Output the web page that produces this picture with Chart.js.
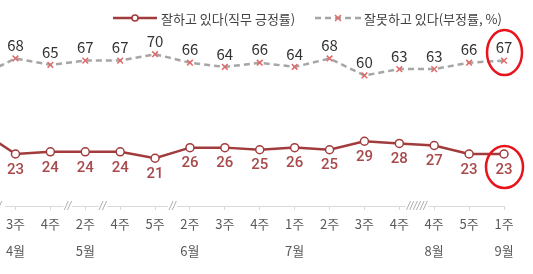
<!DOCTYPE html>
<html><head><meta charset="utf-8">
<script src="https://cdn.jsdelivr.net/npm/chart.js@4/dist/chart.umd.min.js"></script>
<style>html,body{margin:0;padding:0;background:#fff;overflow:hidden}#wrap{width:533px;height:274px;position:relative}</style>
</head><body><div id="wrap"><canvas id="c"></canvas></div>
<script>
// index 0 is the previous survey (off the left edge of the crop)
const weeks = ['', '3주','4주','2주','4주','5주','2주','3주','4주','1주','2주','3주','4주','4주','5주','1주'];
const months = ['', '4월','','5월','','','6월','','','7월','','','','8월','','9월'];
const approval = [34,23,24,24,24,21,26,26,25,26,25,29,28,27,23,23];
const disapproval = [60,68,65,67,67,70,66,64,66,64,68,60,63,63,66,67];
const breakAfter = [0,2,3,5,12];
const breakMarks = ['//','//','//','//','//////'];
const seriesNames = ['잘하고 있다(직무 긍정률)', '잘못하고 있다(부정률, %)'];

const RED = '#a23b3c', RED_LABEL = '#a8494b', GRAY = '#a6a6a6', PINK = '#e06a6a', TXT = '#404040';
const KFONT = '"Noto Sans CJK KR", "Noto Sans", sans-serif';

const overlay = {
  id: 'overlay',
  afterDatasetsDraw(chart) {
    const ctx = chart.ctx, xs = chart.scales.x;
    const m0 = chart.getDatasetMeta(0), m1 = chart.getDatasetMeta(1);
    ctx.save();
    ctx.textAlign = 'center'; ctx.textBaseline = 'middle';
    for (let i = 1; i < approval.length; i++) {
      const p = m0.data[i];
      ctx.fillStyle = RED_LABEL; ctx.font = '500 15px Roboto, sans-serif';
      ctx.fillText(String(approval[i]), p.x, p.y + 16);
      const q = m1.data[i];
      ctx.fillStyle = '#333'; ctx.font = '15px ' + KFONT;
      ctx.fillText(String(disapproval[i]), q.x, q.y - 13);
    }
    const ay = xs.top;
    breakAfter.forEach((b, k) => {
      const x = xs.getPixelForValue(b + 0.5);
      ctx.font = 'italic 10px "DejaVu Sans", sans-serif';
      const w = ctx.measureText(breakMarks[k]).width;
      ctx.fillStyle = '#fff';
      ctx.fillRect(x - w / 2 - 1, ay - 2, w + 2, 4);
      ctx.fillStyle = GRAY;
      ctx.fillText(breakMarks[k], x, ay);
    });
    const last = approval.length - 1;
    ctx.strokeStyle = '#e8141c'; ctx.lineWidth = 2.5;
    const pa = m0.data[last], pd = m1.data[last];
    ctx.beginPath(); ctx.ellipse(pd.x + 0.5, pd.y - 8, 17.5, 22.5, 0, 0, Math.PI * 2); ctx.stroke();
    ctx.beginPath(); ctx.ellipse(pa.x + 0.5, pa.y + 13, 18.5, 21, 0, 0, Math.PI * 2); ctx.stroke();
    // legend
    const ly = 18;
    ctx.lineWidth = 2.5; ctx.strokeStyle = RED; ctx.setLineDash([]);
    ctx.beginPath(); ctx.moveTo(113, ly); ctx.lineTo(157, ly); ctx.stroke();
    ctx.beginPath(); ctx.arc(135, ly, 3, 0, Math.PI * 2); ctx.fillStyle = '#fff'; ctx.fill();
    ctx.lineWidth = 1.5; ctx.stroke();
    ctx.fillStyle = TXT; ctx.font = '13px ' + KFONT; ctx.textAlign = 'left';
    ctx.fillText(seriesNames[0], 161, ly + 1);
    ctx.strokeStyle = GRAY; ctx.lineWidth = 2.5; ctx.setLineDash([6, 4]);
    ctx.beginPath(); ctx.moveTo(315, ly); ctx.lineTo(362, ly); ctx.stroke();
    ctx.setLineDash([]);
    ctx.strokeStyle = PINK; ctx.lineWidth = 1.5;
    ctx.beginPath(); ctx.moveTo(335, ly - 3); ctx.lineTo(341, ly + 3); ctx.moveTo(341, ly - 3); ctx.lineTo(335, ly + 3); ctx.stroke();
    ctx.fillStyle = TXT;
    ctx.fillText(seriesNames[1], 364, ly + 1);
    ctx.restore();
  }
};

new Chart(document.getElementById('c'), {
  type: 'line',
  data: {
    datasets: [
      {
        label: seriesNames[0],
        data: approval.map((v, i) => ({x: i, y: v})),
        borderColor: RED, borderWidth: 2.5, tension: 0, clip: false,
        pointStyle: 'circle', pointRadius: approval.map((v, i) => i === 0 ? 0 : 4),
        pointBackgroundColor: '#fff', pointBorderColor: RED, pointBorderWidth: 1.5
      },
      {
        label: seriesNames[1],
        data: disapproval.map((v, i) => ({x: i, y: v})),
        borderColor: GRAY, borderWidth: 2.5, borderDash: [6, 4], tension: 0, clip: false,
        pointStyle: 'crossRot', pointRadius: disapproval.map((v, i) => i === 0 ? 0 : 4),
        pointBorderColor: PINK, pointBorderWidth: 1.5
      }
    ]
  },
  options: {
    responsive: true, maintainAspectRatio: false, animation: false,
    layout: {padding: {top: 33, right: 29, left: 0, bottom: 0}},
    plugins: {legend: {display: false}, tooltip: {enabled: false}},
    scales: {
      x: {
        type: 'linear', min: 0.714, max: 15,
        afterFit(s) { s.height = 68; },
        border: {display: true, color: '#d9d9d9', width: 1},
        grid: {drawOnChartArea: false, drawTicks: true, tickLength: 4, color: '#d9d9d9'},
        ticks: {
          stepSize: 1, includeBounds: false, autoSkip: false, maxRotation: 0, padding: 1,
          color: '#595959', font: {size: 13, family: KFONT, lineHeight: 2.05},
          callback: (v) => (Number.isInteger(v) && v >= 1 && v < weeks.length) ? [weeks[v], months[v]] : ''
        }
      },
      y: {display: false, min: -1.5, max: 80}
    }
  },
  plugins: [overlay]
});
</script>
</body></html>
